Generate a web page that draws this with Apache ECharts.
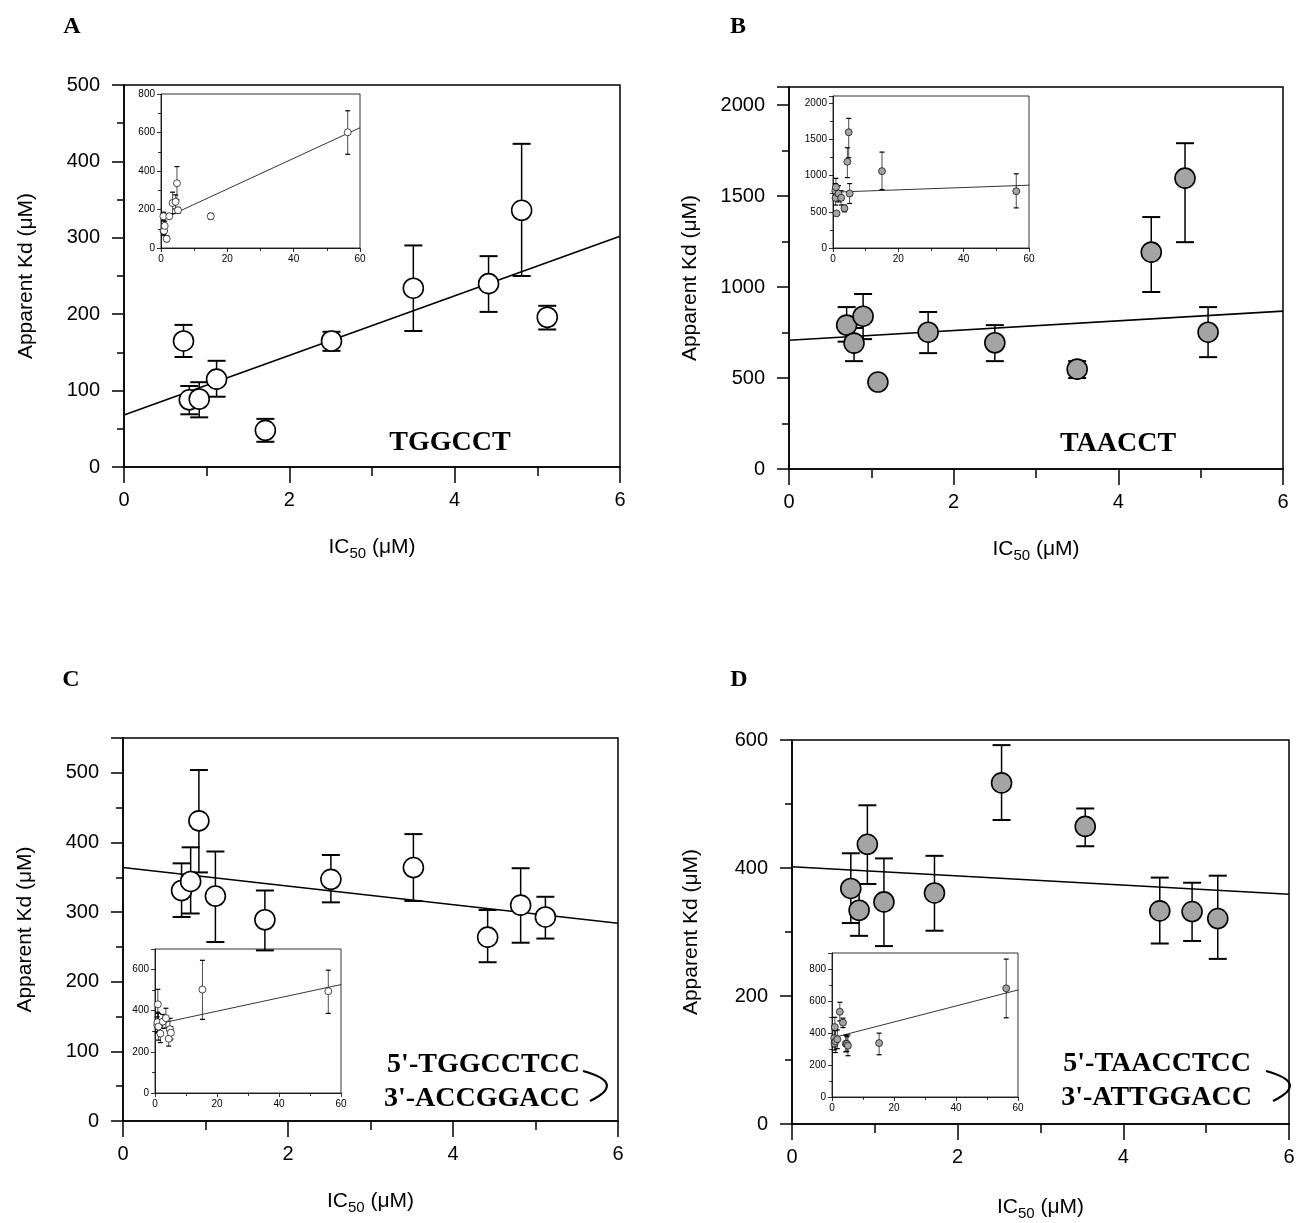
<!DOCTYPE html>
<html>
<head>
<meta charset="utf-8">
<script src="https://cdn.jsdelivr.net/npm/echarts@6/dist/echarts.min.js"></script>
<style>
  html, body { margin: 0; padding: 0; background: #fff; }
  #chart { width: 1299px; height: 1223px; }
</style>
</head>
<body>
<div id="chart"></div>
<script>
// ---- panel A : TGGCCT (open circles) ----
const aX  = [0.72, 0.79, 0.91, 1.12, 1.71, 2.51, 3.50, 4.41, 4.81, 5.12];
const aY  = [165, 88, 89, 115, 48, 165, 234, 240, 336, 196];
const aLo = [144, 69, 65, 92, 33, 152, 178, 203, 250, 180];
const aHi = [186, 106, 111, 139, 63, 177, 290, 276, 423, 211];
const aFit = [[0, 68], [6, 302]];
const aInsX  = [15.0, 56.3];
const aInsY  = [165, 601];
const aInsLo = [150, 487];
const aInsHi = [180, 713];
const aInsFit = [[0, 147], [60, 625]];

// ---- panel B : TAACCT (grey circles) ----
const bX  = [0.70, 0.79, 0.90, 1.08, 1.69, 2.50, 3.50, 4.40, 4.81, 5.09];
const bY  = [791, 692, 840, 478, 752, 694, 549, 1192, 1599, 752];
const bLo = [700, 593, 714, 478, 637, 593, 500, 973, 1247, 615];
const bHi = [890, 775, 962, 478, 863, 791, 593, 1385, 1791, 890];
const bFit = [[0, 708], [6, 868]];
const bInsX  = [15.0, 56.1];
const bInsY  = [1062, 785];
const bInsLo = [808, 554];
const bInsHi = [1325, 1025];
const bInsFit = [[0, 771], [60, 868]];

// ---- panel C : TGGCCTCC duplex (open circles) ----
const cX  = [0.71, 0.82, 0.92, 1.12, 1.72, 2.52, 3.52, 4.42, 4.82, 5.12];
const cY  = [331, 344, 431, 323, 289, 347, 364, 264, 310, 293];
const cLo = [293, 298, 357, 257, 245, 314, 316, 228, 256, 262];
const cHi = [370, 393, 504, 387, 331, 382, 412, 303, 363, 322];
const cFit = [[0, 364], [6, 284]];
const cInsX  = [15.3, 55.9];
const cInsY  = [503, 495];
const cInsLo = [358, 387];
const cInsHi = [645, 597];
const cInsFit = [[0, 333], [60, 527]];

// ---- panel D : TAACCTCC duplex (grey circles) ----
const dX  = [0.71, 0.81, 0.91, 1.11, 1.72, 2.53, 3.54, 4.44, 4.83, 5.14];
const dY  = [368, 334, 437, 347, 361, 533, 465, 333, 332, 321];
const dLo = [314, 294, 375, 278, 302, 475, 434, 282, 286, 258];
const dHi = [423, 375, 498, 415, 419, 592, 493, 385, 377, 388];
const dFit = [[0, 402], [6, 359]];
const dInsX  = [15.2, 56.2];
const dInsY  = [337, 679];
const dInsLo = [264, 495];
const dInsHi = [399, 862];
const dInsFit = [[0, 369], [60, 669]];

const SANS = '"Liberation Sans", Arial, sans-serif';
const SERIF = '"Liberation Serif", "Times New Roman", serif';
const GREY = '#a4a4a4';
const plain = v => String(v);

const grids = [
  { left: 124, top: 85,  width: 496, height: 382 },  // A
  { left: 161, top: 94,  width: 199, height: 154 },  // A inset
  { left: 789, top: 87,  width: 494, height: 382 },  // B
  { left: 833, top: 96,  width: 196, height: 152 },  // B inset
  { left: 123, top: 738, width: 495, height: 383 },  // C
  { left: 155, top: 949, width: 186, height: 144 },  // C inset
  { left: 792, top: 740, width: 497, height: 384 },  // D
  { left: 832, top: 953, width: 186, height: 144 }   // D inset
].map(g => Object.assign(g, { show: true, borderColor: '#000', borderWidth: 1.5, backgroundColor: '#fff' }));
grids.forEach((g, i) => { if (i % 2) g.borderWidth = 0.8; });

const subTitle = {
  color: '#000', fontSize: 21, fontFamily: SANS,
  rich: { sub: { fontSize: 15, fontFamily: SANS, color: '#000', padding: [13, 0, 0, 0] } }
};

function mainX(gi, gap) {
  return {
    gridIndex: gi, type: 'value', min: 0, max: 6, interval: 2,
    axisLine: { lineStyle: { color: '#000', width: 1.5 } },
    axisTick: { length: 16, lineStyle: { color: '#000', width: 1.5 } },
    minorTick: { show: true, splitNumber: 2, length: 9, lineStyle: { color: '#000', width: 1.5 } },
    splitLine: { show: false },
    axisLabel: { color: '#000', fontSize: 20, fontFamily: SANS, margin: 23, formatter: plain },
    name: 'IC{sub|50} (μM)', nameLocation: 'middle', nameGap: gap, nameTextStyle: subTitle
  };
}
function mainY(gi, max, interval, gap) {
  return {
    gridIndex: gi, type: 'value', min: 0, max: max, interval: interval,
    axisLine: { lineStyle: { color: '#000', width: 1.5 } },
    axisTick: { length: 12, lineStyle: { color: '#000', width: 1.5 } },
    minorTick: { show: true, splitNumber: 2, length: 7, lineStyle: { color: '#000', width: 1.5 } },
    splitLine: { show: false },
    axisLabel: { color: '#000', fontSize: 20, fontFamily: SANS, margin: 24, formatter: plain,
      showMaxLabel: max % interval === 0 },
    name: 'Apparent Kd (μM)', nameLocation: 'middle', nameGap: gap,
    nameTextStyle: { color: '#000', fontSize: 21, fontFamily: SANS }
  };
}
function insetX(gi) {
  return {
    gridIndex: gi, type: 'value', min: 0, max: 60, interval: 20,
    axisLine: { lineStyle: { color: '#000', width: 0.8 } },
    axisTick: { length: 4, lineStyle: { color: '#000', width: 0.8 } },
    minorTick: { show: true, splitNumber: 2, length: 3, lineStyle: { color: '#000', width: 0.8 } },
    splitLine: { show: false },
    axisLabel: { color: '#000', fontSize: 10, fontFamily: SANS, margin: 6, formatter: plain }
  };
}
function insetY(gi, max, interval) {
  return {
    gridIndex: gi, type: 'value', min: 0, max: max, interval: interval,
    axisLine: { lineStyle: { color: '#000', width: 0.8 } },
    axisTick: { length: 4, lineStyle: { color: '#000', width: 0.8 } },
    minorTick: { show: true, splitNumber: 2, length: 3, lineStyle: { color: '#000', width: 0.8 } },
    splitLine: { show: false },
    axisLabel: { color: '#000', fontSize: 10, fontFamily: SANS, margin: 6, formatter: plain,
      showMaxLabel: max % interval === 0 }
  };
}

function errBars(gi, xs, lo, hi, cap, lw) {
  return {
    type: 'custom', xAxisIndex: gi, yAxisIndex: gi, z: 3, silent: true,
    data: xs.map((x, i) => [x, lo[i], hi[i]]),
    renderItem: function (params, api) {
      const t = api.coord([api.value(0), api.value(2)]);
      const b = api.coord([api.value(0), api.value(1)]);
      const st = { stroke: '#000', lineWidth: lw };
      return {
        type: 'group', children: [
          { type: 'line', shape: { x1: t[0], y1: t[1], x2: b[0], y2: b[1] }, style: st },
          { type: 'line', shape: { x1: t[0] - cap / 2, y1: t[1], x2: t[0] + cap / 2, y2: t[1] }, style: { stroke: '#000', lineWidth: lw + 0.5 } },
          { type: 'line', shape: { x1: b[0] - cap / 2, y1: b[1], x2: b[0] + cap / 2, y2: b[1] }, style: { stroke: '#000', lineWidth: lw + 0.5 } }
        ]
      };
    }
  };
}
function dots(gi, xs, ys, fill, size, bw) {
  return {
    type: 'scatter', xAxisIndex: gi, yAxisIndex: gi, z: 4, symbol: 'circle', symbolSize: size,
    itemStyle: { color: fill, borderColor: '#000', borderWidth: bw, opacity: 1 },
    data: xs.map((x, i) => [x, ys[i]])
  };
}
function fitLine(gi, pts, lw) {
  return {
    type: 'line', xAxisIndex: gi, yAxisIndex: gi, z: 2, symbol: 'none',
    lineStyle: { color: '#000', width: lw }, data: pts
  };
}

function panel(gm, gi, x, y, lo, hi, fit, ix, iy, ilo, ihi, ifit, fill) {
  return [
    fitLine(gm, fit, 1.6),
    errBars(gm, x, lo, hi, 18, 1.5),
    dots(gm, x, y, fill, 20, 1.6),
    fitLine(gi, ifit, 0.8),
    errBars(gi, x.concat(ix), lo.concat(ilo), hi.concat(ihi), 5, 0.7),
    dots(gi, x.concat(ix), y.concat(iy), fill, 7, 0.7)
  ];
}

function label(txt, x, y, size, align) {
  return {
    type: 'text', x: x, y: y, z: 10,
    style: { text: txt, font: 'bold ' + size + 'px ' + SERIF, fill: '#000',
      align: align || 'center', verticalAlign: 'middle', textAlign: align || 'center', textVerticalAlign: 'middle' }
  };
}
function brace(x, y) {
  return {
    type: 'bezierCurve', z: 10,
    shape: { x1: x, y1: y, cpx1: x + 44, cpy1: y + 12, x2: x + 7, y2: y + 30 },
    style: { stroke: '#000', lineWidth: 2.2, fill: null }
  };
}

const chart = echarts.init(document.getElementById('chart'), null, { renderer: 'canvas' });
chart.setOption({
  animation: false,
  backgroundColor: '#fff',
  grid: grids,
  xAxis: [mainX(0, 66), insetX(1), mainX(2, 66), insetX(3), mainX(4, 66), insetX(5), mainX(6, 69), insetX(7)],
  yAxis: [
    mainY(0, 500, 100, 87), insetY(1, 800, 200),
    mainY(2, 2100, 500, 88), insetY(3, 2100, 500),
    mainY(4, 550, 100, 87), insetY(5, 700, 200),
    mainY(6, 600, 200, 90), insetY(7, 900, 200)
  ],
  series: [].concat(
    panel(0, 1, aX, aY, aLo, aHi, aFit, aInsX, aInsY, aInsLo, aInsHi, aInsFit, '#fff'),
    panel(2, 3, bX, bY, bLo, bHi, bFit, bInsX, bInsY, bInsLo, bInsHi, bInsFit, GREY),
    panel(4, 5, cX, cY, cLo, cHi, cFit, cInsX, cInsY, cInsLo, cInsHi, cInsFit, '#fff'),
    panel(6, 7, dX, dY, dLo, dHi, dFit, dInsX, dInsY, dInsLo, dInsHi, dInsFit, GREY)
  ),
  graphic: [
    label('A', 72, 27, 24), label('B', 738, 27, 24),
    label('C', 71, 680, 24), label('D', 739, 680, 24),
    label('TGGCCT', 450, 443, 28), label('TAACCT', 1118, 444, 28),
    label("5'-TGGCCTCC", 580, 1065, 28, 'right'), label("3'-ACCGGACC", 580, 1099, 28, 'right'),
    label("5'-TAACCTCC", 1251, 1064, 28, 'right'), label("3'-ATTGGACC", 1252, 1098, 28, 'right'),
    brace(583, 1071), brace(1266, 1071)
  ]
});
</script>
</body>
</html>
